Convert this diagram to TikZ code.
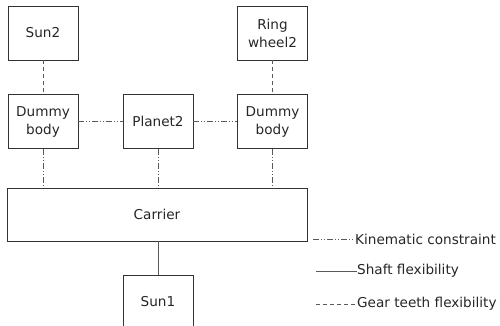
\documentclass[tikz,border=0pt]{standalone}
\usepackage{fontspec}
\setmainfont{DejaVu Sans}
\begin{document}
\begin{tikzpicture}[x=1pt,y=-1pt,
  box/.style={draw=black!80,line width=0.8pt,inner sep=0pt,minimum width=70pt,minimum height=54pt,align=center,font=\fontsize{13.6}{18}\selectfont,text=black!85},
  lab/.style={anchor=west,inner sep=0pt,font=\fontsize{13.6}{16}\selectfont,text=black!85},
  gear/.style={draw=black!65,line width=0.8pt,dash pattern=on 4pt off 3pt},
  kin/.style={draw=black!65,line width=0.8pt,dash pattern=on 6pt off 2pt on 1pt off 2pt on 1pt off 2pt},
  shaft/.style={draw=black!65,line width=0.8pt}]
\useasboundingbox (0,0) rectangle (500,326);
\clip (0,0) rectangle (500,326);
\node[box] (sun2) at (43,33) {Sun2};
\node[box] (ring) at (272.5,33) {Ring\\wheel2};
\node[box] (d1) at (43,121.5) {Dummy\\body};
\node[box] (pl) at (158,121.5) {Planet2};
\node[box] (d2) at (272.5,121.5) {Dummy\\body};
\node[box,minimum width=300pt,minimum height=53pt] (car) at (157,214.5) {Carrier};
\node[box] (sun1) at (158,302) {Sun1};
\draw[gear] (sun2) -- (d1);
\draw[gear] (ring) -- (d2);
\draw[kin] (d1) -- (pl);
\draw[kin] (pl) -- (d2);
\draw[kin] (d1.south) -- (d1.south |- car.north);
\draw[kin] (pl.south) -- (pl.south |- car.north);
\draw[kin] (d2.south) -- (d2.south |- car.north);
\draw[shaft] (car.south -| sun1.north) -- (sun1.north);
\node[lab] (lk) at (355,239) {Kinematic constraint};
\node[lab] (ls) at (357,271) {Shaft flexibility};
\node[lab] (lg) at (357,304) {Gear teeth flexibility};
\coordinate (ck) at (313,239);
\coordinate (cs) at (316,271);
\coordinate (cg) at (316,304);
\draw[kin] (ck) -- (lk.west);
\draw[shaft] (cs) -- (ls.west);
\draw[gear] (cg) -- (lg.west);
\end{tikzpicture}
\end{document}
